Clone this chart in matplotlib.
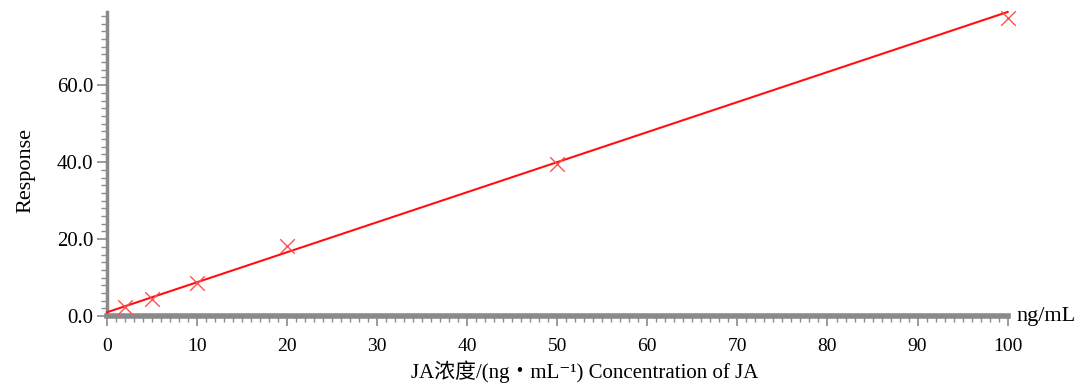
import matplotlib.pyplot as plt
from matplotlib.ticker import MultipleLocator, FormatStrFormatter

# calibration points
conc = [2, 5, 10, 20, 50, 100]
response = [2.3, 4.4, 8.7, 18.3, 39.5, 77.5]

# fitted line end points
fit_x = [0, 100]
fit_y = [1.0, 79.0]

plt.rcParams['font.family'] = ['Liberation Serif', 'Noto Sans CJK SC', 'DejaVu Serif']

fig = plt.figure(figsize=(10.8, 3.86), dpi=100)
ax = fig.add_axes([0.099, 0.181, 0.834, 0.788])

ax.plot(fit_x, fit_y, color='#ff1010', lw=1.5, zorder=3, clip_on=False)
ax.scatter(conc, response, marker='x', s=110, color='#ff5050', linewidths=1.0,
           zorder=4, clip_on=False)

ax.set_xlim(0, 100)
ax.set_ylim(0, 79)

gray = '#8a8a8a'
for side in ['top', 'right']:
    ax.spines[side].set_visible(False)
ax.spines['bottom'].set_color(gray)
ax.spines['bottom'].set_linewidth(4)
ax.spines['left'].set_color(gray)
ax.spines['left'].set_linewidth(2.5)

ax.xaxis.set_major_locator(MultipleLocator(10))
ax.xaxis.set_minor_locator(MultipleLocator(1))
ax.yaxis.set_major_locator(MultipleLocator(20))
ax.yaxis.set_minor_locator(MultipleLocator(2))
ax.yaxis.set_major_formatter(FormatStrFormatter('%.1f'))

ax.tick_params(which='major', length=7, width=1.2, color=gray)
ax.tick_params(which='minor', length=4, width=1.0, color=gray)
ax.tick_params(axis='x', which='major', labelsize=14, pad=9)
ax.tick_params(axis='y', which='major', labelsize=15, pad=3)

ax.set_ylabel('Response', fontsize=16)
ax.yaxis.set_label_coords(-0.079, 0.48)
ax.set_xlabel('JA浓度/(ng・mL⁻¹) Concentration of JA', fontsize=15)
ax.xaxis.set_label_coords(0.53, -0.145)
ax.text(1.01, 0.0, 'ng/mL', transform=ax.transAxes, fontsize=16,
        ha='left', va='center')

fig.savefig('out.png', dpi=100)
